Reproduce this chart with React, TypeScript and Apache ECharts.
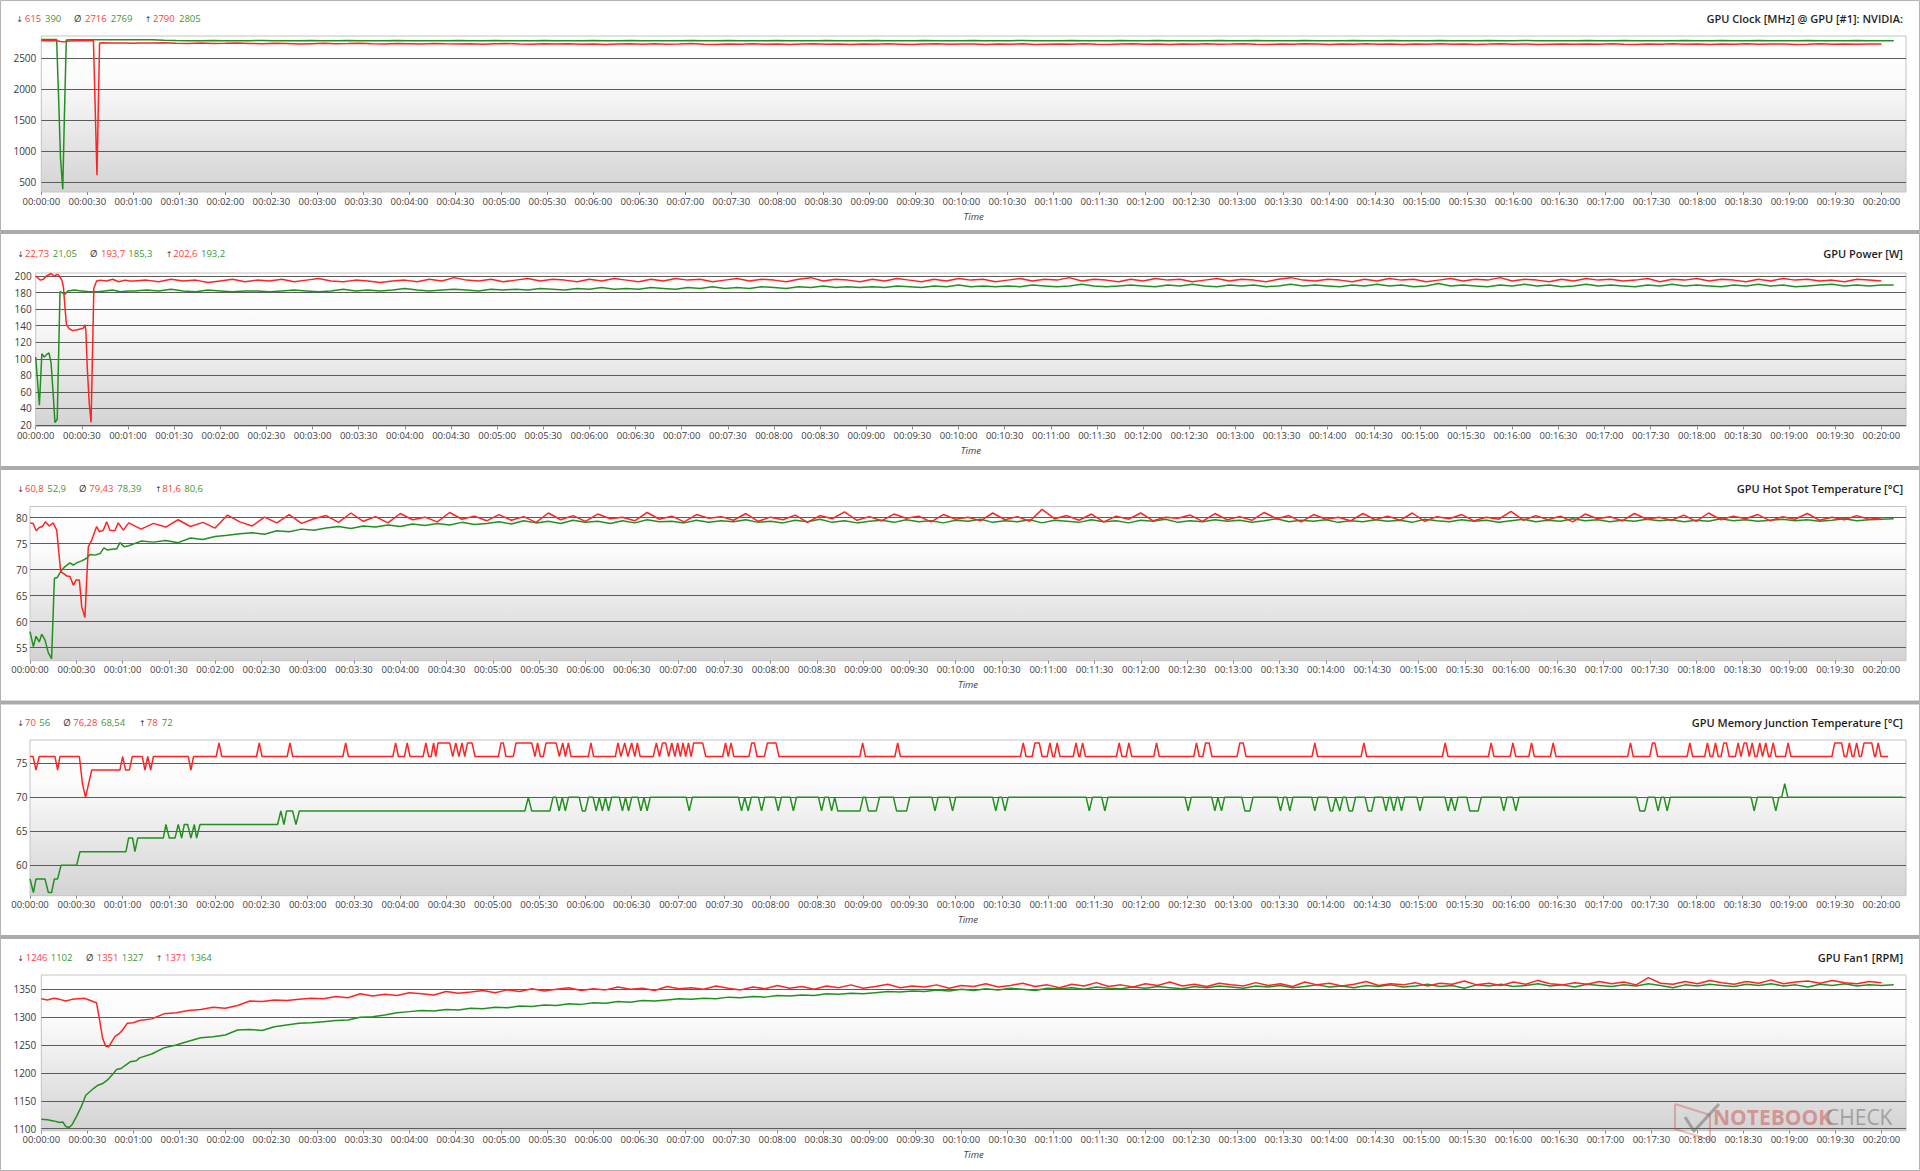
import React, { useEffect, useRef } from "react";
import * as echarts from "echarts";

// ---------- DATA (seconds since start) ----------
const TAIL_START = 64;
const TAIL_STEP = 8;
const tailTimes: number[] = Array.from({ length: 144 }, (_, i) => TAIL_START + i * TAIL_STEP);

// GPU Clock [MHz]
const clockRedEarlyT = [0, 8, 11, 12.5, 15, 18, 24, 30, 34, 36.3, 38, 40, 45, 50, 55, 60];
const clockRedEarlyV = [2785, 2785, 2778, 2770, 2765, 2778, 2785, 2785, 2785, 615, 2745, 2750, 2745, 2748, 2745, 2742];
const clockRedTail = [
  2748, 2745, 2750, 2744, 2740, 2746, 2738, 2742, 2748, 2740,
  2735, 2742, 2738, 2730, 2736, 2741, 2733, 2737, 2744, 2735,
  2731, 2738, 2735, 2729, 2740, 2734, 2730, 2736, 2727, 2733,
  2738, 2730, 2725, 2734, 2729, 2736, 2728, 2732, 2724, 2731,
  2735, 2727, 2733, 2726, 2730, 2737, 2728, 2723, 2731, 2727,
  2734, 2726, 2730, 2722, 2729, 2735, 2727, 2731, 2724, 2730,
  2726, 2733, 2728, 2721, 2730, 2736, 2725, 2729, 2732, 2724,
  2730, 2727, 2734, 2723, 2728, 2731, 2725, 2733, 2727, 2722,
  2729, 2735, 2726, 2730, 2724, 2731, 2728, 2734, 2725, 2729,
  2736, 2727, 2723, 2730, 2726, 2733, 2729, 2724, 2731, 2728,
  2734, 2725, 2729, 2722, 2730, 2727, 2733, 2726, 2731, 2724,
  2729, 2735, 2727, 2730, 2723, 2728, 2732, 2726, 2730, 2725,
  2733, 2728, 2724, 2731, 2727, 2734, 2726, 2729, 2723, 2730,
  2727, 2733, 2725, 2729, 2731, 2724, 2728, 2734, 2726, 2730,
  2727, 2729, 2731,
];
const clockGreenEarlyT = [0, 10, 11.5, 12.5, 14, 15, 16.3, 20, 30, 40, 50, 60];
const clockGreenEarlyV = [2805, 2805, 1700, 900, 390, 1500, 2795, 2800, 2800, 2800, 2800, 2800];
const clockGreenTail = [
  2800, 2798, 2790, 2786, 2785, 2784, 2786, 2785, 2783, 2785,
  2786, 2784, 2785, 2783, 2786, 2785, 2784, 2786, 2785, 2784,
  2785, 2786, 2784, 2785, 2783, 2785, 2786, 2784, 2785, 2786,
  2784, 2785, 2783, 2786, 2785, 2784, 2785, 2786, 2784, 2785,
  2786, 2785, 2784, 2783, 2785, 2786, 2784, 2785, 2786, 2784,
  2785, 2784, 2786, 2785, 2783, 2785, 2786, 2784, 2785, 2784,
  2786, 2785, 2784, 2785, 2786, 2784, 2783, 2785, 2786, 2785,
  2784, 2785, 2786, 2784, 2785, 2783, 2786, 2785, 2784, 2785,
  2786, 2784, 2785, 2786, 2784, 2785, 2783, 2785, 2786, 2784,
  2785, 2786, 2784, 2785, 2784, 2786, 2785, 2783, 2785, 2786,
  2784, 2785, 2786, 2784, 2785, 2783, 2786, 2785, 2784, 2785,
  2786, 2784, 2785, 2786, 2785, 2784, 2783, 2785, 2786, 2784,
  2785, 2786, 2784, 2785, 2783, 2785, 2786, 2784, 2785, 2786,
  2784, 2785, 2786, 2784, 2785, 2784, 2786, 2785, 2784, 2785,
  2786, 2784, 2785, 2785,
];

// GPU Power [W]
const powerRedEarlyT = [0, 3, 5, 7, 10, 12, 14, 15, 17, 18, 19, 20, 22, 24, 27, 29, 31, 32, 32.6, 33.5, 34.8, 36, 37.8, 39.6, 42, 46, 50, 54, 58, 61];
const powerRedEarlyV = [200, 195, 196, 200, 203, 200, 202, 201, 195, 187, 163, 141, 136, 134, 135, 136, 137, 141, 135, 90, 46, 23, 185, 194, 195, 194, 196, 193, 195, 194];
const powerRedTail = [
  194, 195, 193, 196, 194, 195, 192, 194, 196, 193,
  195, 194, 196, 193, 195, 197, 194, 193, 195, 194,
  192, 194, 195, 193, 196, 194, 198, 195, 194, 196,
  193, 195, 197, 194, 196, 195, 193, 196, 194, 197,
  195, 193, 196, 194, 197, 195, 196, 193, 195, 197,
  194, 196, 195, 193, 196, 198, 194, 196, 195, 193,
  196, 194, 197, 195, 193, 196, 194, 197, 195, 196,
  193, 195, 197, 194, 196, 195, 198, 194, 196, 195,
  193, 196, 194, 197, 195, 196, 193, 195, 197, 194,
  196, 195, 193, 196, 198, 195, 194, 196, 195, 193,
  196, 194, 197, 195, 196, 193, 195, 197, 194, 196,
  195, 198, 194, 196, 195, 193, 196, 194, 197, 195,
  196, 194, 195, 197, 193, 196, 195, 197, 194, 196,
  195, 193, 196, 194, 197, 195, 196, 194, 195, 193,
  196, 195, 194,
];
const powerGreenEarlyT = [0, 2.4, 4, 5.6, 7, 8.6, 10, 11.5, 12.5, 14, 15.8, 17, 19, 21, 25, 30, 35, 40, 45, 50, 55, 60];
const powerGreenEarlyV = [102, 44, 106, 102, 105, 107, 95, 54, 23, 27, 181, 180, 178, 182, 183, 182, 181, 181, 182, 183, 181, 182];
const powerGreenTail = [
  182, 183, 182, 184, 182, 181, 183, 182, 181, 182,
  182, 181, 182, 183, 182, 181, 182, 184, 182, 183,
  182, 183, 185, 183, 182, 183, 184, 183, 182, 184,
  183, 184, 183, 185, 184, 183, 185, 184, 186, 184,
  185, 184, 186, 185, 184, 186, 185, 187, 185, 186,
  185, 187, 186, 185, 187, 186, 188, 186, 187, 186,
  187, 186, 188, 187, 186, 188, 187, 189, 187, 188,
  187, 188, 187, 189, 188, 187, 188, 190, 188, 187,
  188, 189, 188, 187, 189, 188, 190, 188, 187, 189,
  188, 189, 187, 188, 190, 188, 189, 188, 187, 189,
  188, 190, 188, 189, 187, 188, 191, 188, 189, 188,
  187, 189, 188, 190, 188, 189, 187, 188, 190, 188,
  189, 188, 187, 189, 188, 190, 188, 189, 188, 187,
  189, 188, 190, 188, 189, 187, 188, 189, 190, 188,
  189, 188, 189, 189,
];

// GPU Hot Spot Temperature [°C]
const hotRedEarlyT = [0, 2, 4, 6, 8, 10, 12.5, 15, 17.3, 19.9, 21.6, 23.8, 25.9, 28.1, 29.8, 32, 33.5, 35.6, 37.8, 40, 43.2, 45, 47.5, 49.7, 51.8, 55, 57.2, 60.5];
const hotRedEarlyV = [79.0, 78.9, 77.5, 78.1, 78.3, 79.2, 78.4, 79.0, 77.6, 69.6, 69.3, 68.8, 68.7, 67.0, 68.0, 68.0, 62.9, 60.8, 74.4, 75.7, 78.3, 77.3, 77.6, 79.2, 77.6, 77.5, 79.0, 77.6];
const hotRedTail = [
  79.0, 77.8, 78.9, 78.2, 79.6, 78.3, 79.1, 78.0, 80.5, 79.2,
  78.4, 80.1, 79.0, 80.6, 78.9, 79.8, 80.4, 79.1, 80.9, 79.3,
  80.2, 79.0, 80.8, 79.6, 80.1, 79.2, 81.0, 79.7, 80.3, 79.4,
  80.6, 79.5, 80.2, 79.1, 80.9, 79.6, 80.4, 79.3, 80.7, 79.8,
  80.1, 79.4, 81.0, 79.7, 80.3, 79.2, 80.6, 79.9, 80.2, 79.5,
  80.8, 79.3, 80.1, 79.6, 80.5, 79.1, 80.4, 79.8, 81.1, 79.5,
  80.2, 79.4, 80.7, 79.9, 80.3, 79.2, 80.6, 79.7, 80.1, 79.4,
  80.9, 79.6, 80.2, 79.3, 81.6, 79.8, 80.4, 79.5, 80.7, 79.2,
  80.3, 79.7, 80.9, 79.4, 80.1, 79.9, 80.5, 79.3, 80.8, 79.6,
  80.2, 79.5, 81.0, 79.8, 80.4, 79.2, 80.6, 79.7, 80.1, 79.4,
  80.8, 79.6, 80.3, 79.5, 80.9, 79.3, 80.2, 79.8, 80.6, 79.4,
  80.1, 79.7, 81.2, 79.5, 80.4, 79.6, 80.3, 79.2, 80.7, 79.8,
  80.2, 79.4, 80.8, 79.7, 80.1, 79.5, 80.5, 79.3, 80.9, 79.6,
  80.3, 79.8, 80.6, 79.4, 80.2, 79.7, 80.8, 79.5, 80.1, 79.6,
  80.4, 79.7, 80.0,
];
const hotGreenEarlyT = [0, 2.2, 3.9, 6, 7.6, 9.7, 11.9, 14, 15.8, 17.7, 20.5, 22.7, 25.9, 28.1, 30.2, 33.5, 36.7, 38.9, 42.1, 45.4, 47.9, 50, 54, 56.2, 58.3, 61];
const hotGreenEarlyV = [58.1, 55.2, 57.2, 56.1, 57.6, 56.5, 54.0, 52.9, 68.3, 68.5, 69.9, 70.6, 71.3, 70.9, 71.3, 71.7, 72.2, 72.9, 72.8, 73.1, 74.2, 73.8, 74.0, 74.0, 75.2, 74.4];
const hotGreenTail = [
  74.6, 75.5, 75.3, 75.6, 75.2, 76.1, 75.8, 76.4, 76.6, 76.9,
  77.1, 76.8, 77.5, 77.3, 77.8, 77.6, 78.0, 78.3, 77.9, 78.4,
  78.2, 78.6, 78.3, 78.8, 78.5, 78.9, 78.6, 79.1, 78.7, 78.9,
  79.2, 78.8, 79.4, 79.0, 79.3, 78.9, 79.5, 79.1, 79.3, 78.9,
  79.4, 79.0, 79.6, 79.2, 79.3, 79.0, 79.5, 79.1, 79.4, 79.2,
  79.6, 79.1, 79.3, 79.0, 79.5, 79.2, 79.7, 79.1, 79.4, 79.0,
  79.3, 79.5, 79.1, 79.6, 79.2, 79.4, 79.0, 79.5, 79.3, 79.7,
  79.1, 79.4, 79.2, 79.6, 79.0, 79.5, 79.3, 79.1, 79.6, 79.2,
  79.4, 79.0, 79.5, 79.3, 79.7, 79.1, 79.4, 79.2, 79.6, 79.3,
  79.5, 79.1, 79.4, 79.8, 79.2, 79.5, 79.3, 79.6, 79.1, 79.4,
  79.2, 79.6, 79.3, 79.5, 79.1, 79.7, 79.4, 79.2, 79.6, 79.3,
  79.5, 79.1, 79.4, 79.7, 79.2, 79.5, 79.3, 79.8, 79.4, 79.6,
  79.2, 79.5, 79.3, 79.7, 79.4, 79.6, 79.2, 79.5, 79.3, 79.8,
  79.4, 79.6, 79.3, 79.5, 79.7, 79.4, 79.6, 79.3, 79.5, 79.8,
  79.4, 79.6, 79.7, 79.8,
];

// GPU Memory Junction Temperature [°C]  ([seconds, °C] change points)
const memRed: number[][] = [
  [0, 76], [2, 76], [3.9, 74], [6, 76], [16.2, 76], [17.9, 74], [19.4, 76], [32, 76], [34, 72], [36, 70], [40, 74], [58.3, 74], [60, 76], [62, 74], [64.4, 74], [66.3, 76], [72.8, 76], [74.5, 74], [76.3, 76], [78.2, 74], [80, 76], [102.6, 76], [104.3, 74], [106, 76],
  [120.7, 76], [122.5, 78], [124.3, 76], [146.8, 76], [148.6, 78], [150.4, 76], [166.7, 76], [168.5, 78], [170.3, 76], [202.8, 76], [204.6, 78], [206.4, 76],
  [235.2, 76], [237, 78], [238.8, 76], [242.7, 76], [244.5, 78], [246.3, 76], [254.8, 76], [256.6, 78], [258.4, 76],
  [260, 76], [261.6, 78], [263, 76], [264.5, 78], [272, 78], [274, 76], [276, 78], [278, 76], [280, 78], [281.8, 76], [283.6, 78], [286.5, 78], [288.5, 76],
  [303.6, 76], [305.3, 78], [306.8, 78], [308.5, 76], [313.3, 76], [315, 78], [325.2, 78], [327.3, 76], [329, 78], [330.8, 76], [332.7, 76], [334.5, 78], [341, 78], [343.1, 76], [345.3, 78], [347, 76], [349, 78], [350.7, 76],
  [361.9, 76], [363.6, 78], [365.3, 76], [379.4, 76], [381.1, 78], [383, 76], [385.5, 78], [387.5, 76], [390, 78], [392, 76], [393.7, 78], [395.5, 76],
  [404, 76], [406, 78], [408, 76], [410, 78], [412, 78], [414, 76], [416, 78], [418, 76], [419.8, 78], [421.6, 76], [423.3, 78], [425, 76], [426.8, 78], [428.5, 76], [430.2, 78], [436, 78], [438, 76],
  [449, 76], [450.8, 78], [452.6, 76], [454.4, 78], [456.2, 76], [466, 76], [467.8, 78], [469.5, 78], [471.3, 76], [476, 76], [478, 78], [483.5, 78], [485.5, 76],
  [537.9, 76], [539.7, 78], [541.5, 76], [560.6, 76], [562.4, 78], [564.2, 76],
  [642, 76], [643.8, 78], [645.6, 76], [649.6, 76], [651.4, 78], [654.2, 78], [656, 76], [659.3, 76], [661.1, 78], [662.9, 76], [664, 76], [665.8, 78], [667.6, 76],
  [676.2, 76], [678, 78], [679.8, 76], [680.5, 76], [682.3, 78], [684.1, 76], [704.2, 76], [706, 78], [707.8, 76], [710.5, 76], [712.3, 78], [714.1, 76], [728.4, 76], [730.2, 78], [732, 76],
  [754.3, 76], [756.1, 78], [757.9, 76], [760.2, 76], [762, 78], [764.3, 78], [766.1, 76], [782.4, 76], [784.2, 78], [786.4, 78], [788.2, 76], [831, 76], [832.8, 78], [834.6, 76], [862.8, 76], [864.6, 78], [866.4, 76],
  [915.5, 76], [917.3, 78], [919.1, 76], [945.3, 76], [947.1, 78], [948.9, 76], [959.4, 76], [961.2, 78], [963, 76], [971.5, 76], [973.3, 78], [975.1, 76], [985.5, 76], [987.3, 78], [989.1, 76],
  [1035.6, 76], [1037.4, 78], [1039.2, 76], [1049.9, 76], [1051.7, 78], [1053.2, 78], [1055, 76], [1074.1, 76], [1075.9, 78], [1077.7, 76],
  [1085.5, 76], [1087.3, 78], [1089.1, 76], [1090.7, 76], [1092.5, 78], [1094.3, 76], [1096.1, 76], [1097.9, 78], [1099.6, 78], [1101.4, 76], [1105.4, 76], [1107.2, 78], [1109, 76],
  [1109.3, 76], [1111.1, 78], [1112.6, 78], [1114.4, 76], [1116.3, 78], [1118.1, 76], [1119.4, 76], [1121.2, 78], [1123, 76], [1123.3, 76], [1125.1, 78], [1126.9, 76], [1128.1, 76], [1129.9, 78], [1131.7, 76],
  [1137.8, 76], [1139.6, 78], [1141.4, 76], [1168, 76], [1169.8, 78], [1174.2, 78], [1176, 76], [1177.5, 76], [1179.3, 78], [1181.1, 76], [1182.2, 76], [1184, 78], [1185.8, 76],
  [1187, 76], [1188.8, 78], [1193.8, 78], [1195.6, 76], [1196.2, 76], [1198, 78], [1199.8, 76], [1204.4, 76],
];
const memGreen: number[][] = [
  [0, 58], [2.2, 56], [3.9, 58], [9.7, 58], [11.9, 56], [14, 56], [15.8, 58], [17.9, 58], [20.1, 60], [30.2, 60], [32.4, 62], [62.2, 62], [63.9, 64], [66.5, 64], [68, 62], [69.8, 64],
  [86.4, 64], [88.1, 66], [90.3, 64], [94, 64], [96.1, 66], [98.3, 64], [100, 66], [102.2, 66], [104.3, 64], [106.5, 66], [108, 64], [110.2, 66],
  [160.5, 66], [162.6, 68], [164.6, 66], [166.3, 68], [170.2, 68], [172.4, 66], [174.6, 68],
  [320.8, 68], [323, 70], [325.2, 68], [337, 68], [339, 70], [341, 70], [343, 68], [345, 70], [347, 68], [349, 70], [356, 70], [358, 68], [360, 68], [362, 70], [365, 70], [367, 68], [369, 70], [371, 68], [373, 70], [375, 68], [377, 70],
  [382, 70], [384, 68], [386, 70], [388, 68], [390, 70], [394, 70], [396, 68], [398, 70], [400, 68], [402, 70],
  [425.3, 70], [427.3, 68], [429.3, 70], [459.2, 70], [461.2, 68], [463.3, 70], [465.5, 68], [467.5, 70], [472.2, 70], [474.2, 68], [476.2, 70], [483, 70], [485, 68], [487, 70], [492.8, 70], [494.8, 68], [496.8, 70],
  [511.1, 70], [513.1, 68], [515.1, 70], [517.6, 70], [519.6, 68], [521.6, 70], [523.6, 68], [538, 68], [540, 70], [541.5, 70], [543.5, 68], [548.5, 68], [550.6, 70], [559.7, 70], [561.7, 68], [568.2, 68], [570.2, 70], [584.6, 70], [586.6, 68], [588.6, 70],
  [596, 70], [598, 68], [600, 70], [624, 70], [626, 68], [628, 70], [630, 70], [632, 68], [634, 70], [684.6, 70], [686.6, 68], [688.6, 70], [694.7, 70], [696.7, 68], [698.7, 70],
  [748.7, 70], [750.7, 68], [752.7, 70], [766, 70], [768, 68], [770, 70], [772.3, 68], [774.3, 70], [785.5, 70], [787.5, 68], [790.7, 68], [792.7, 70],
  [808.6, 70], [810.6, 68], [812.6, 70], [814.6, 70], [816.6, 68], [818.6, 70], [830.8, 70], [832.8, 68], [834.8, 70], [841, 70], [843, 68], [844.3, 68], [846.3, 70], [849, 68], [851, 70],
  [853, 70], [855, 68], [857.2, 68], [859.2, 70], [865.4, 70], [867.4, 68], [869.6, 68], [871.6, 70], [876.9, 70], [878.9, 68], [880.9, 70], [882, 70], [884, 68], [886, 70], [887, 70], [889, 68], [891, 70], [899, 70], [901, 68], [903, 70],
  [917.2, 70], [919.2, 68], [921.2, 70], [921.6, 70], [923.6, 68], [925.6, 70], [931.3, 70], [933.3, 68], [938.7, 68], [940.7, 70], [953.3, 70], [955.3, 68], [957.3, 70], [961.1, 70], [963.1, 68], [965.1, 70],
  [1041.5, 70], [1043.5, 68], [1046.7, 68], [1048.7, 70], [1053.3, 70], [1055.3, 68], [1057.3, 70], [1059.2, 70], [1061.2, 68], [1063.2, 70],
  [1115.6, 70], [1117.6, 68], [1119.6, 70], [1129.6, 70], [1131.6, 68], [1133.6, 70], [1135.4, 70], [1137.4, 72], [1139.4, 70], [1214, 70],
];

// GPU Fan1 [RPM]
const fanRedEarlyT = [0, 4, 8, 12, 16, 20, 24, 28, 32, 36, 38, 40, 42, 44, 46, 48, 51, 53, 56, 60];
const fanRedEarlyV = [1333, 1331, 1334, 1332, 1329, 1332, 1333, 1334, 1330, 1326, 1295, 1262, 1248, 1247, 1256, 1265, 1271, 1277, 1289, 1290];
const fanRedTail = [
  1294, 1297, 1306, 1308, 1312, 1314, 1318, 1316, 1321, 1329,
  1328, 1331, 1330, 1332, 1334, 1333, 1337, 1335, 1342, 1338,
  1341, 1339, 1344, 1342, 1340, 1346, 1343, 1345, 1348, 1344,
  1349, 1346, 1351, 1347, 1350, 1353, 1348, 1351, 1349, 1354,
  1350, 1352, 1348, 1355, 1351, 1353, 1350, 1356, 1352, 1349,
  1354, 1351, 1357, 1352, 1355, 1350, 1356, 1353, 1358, 1352,
  1355, 1359, 1353, 1356, 1354, 1358, 1352, 1357, 1355, 1360,
  1354, 1357, 1361, 1355, 1358, 1353, 1359, 1356, 1362, 1355,
  1358, 1354, 1360, 1357, 1363, 1356, 1359, 1355, 1361, 1358,
  1356, 1362, 1357, 1360, 1355, 1363, 1358, 1361, 1356, 1359,
  1364, 1357, 1360, 1358, 1362, 1356, 1361, 1359, 1365, 1358,
  1361, 1357, 1363, 1359, 1366, 1360, 1358, 1362, 1359, 1364,
  1360, 1363, 1358, 1371, 1361, 1359, 1364, 1360, 1366, 1362,
  1359, 1364, 1361, 1367, 1360, 1363, 1365, 1361, 1366, 1362,
  1360, 1364, 1362,
];
const fanGreenEarlyT = [0, 4, 8, 12, 14, 16, 18, 20, 23, 26, 29, 34, 37, 40, 43, 47, 49, 52, 55, 58, 62];
const fanGreenEarlyV = [1117, 1116, 1114, 1111, 1112, 1104, 1102, 1107, 1122, 1139, 1160, 1172, 1178, 1181, 1187, 1199, 1206, 1208, 1214, 1220, 1222];
const fanGreenTail = [
  1227, 1234, 1245, 1250, 1257, 1263, 1265, 1268, 1277, 1278,
  1276, 1283, 1286, 1289, 1290, 1292, 1294, 1295, 1300, 1301,
  1304, 1308, 1310, 1312, 1311, 1314, 1313, 1316, 1315, 1318,
  1317, 1320, 1319, 1322, 1321, 1324, 1323, 1326, 1325, 1328,
  1327, 1330, 1329, 1331, 1333, 1332, 1334, 1333, 1336, 1335,
  1337, 1336, 1339, 1338, 1340, 1339, 1342, 1341, 1343, 1342,
  1344, 1346, 1345, 1347, 1346, 1349, 1347, 1350, 1348, 1351,
  1349, 1352, 1350, 1348, 1352, 1351, 1353, 1350, 1354, 1352,
  1351, 1354, 1352, 1355, 1353, 1351, 1355, 1353, 1356, 1354,
  1352, 1356, 1354, 1357, 1353, 1355, 1358, 1354, 1356, 1353,
  1357, 1355, 1358, 1354, 1356, 1359, 1355, 1357, 1352, 1358,
  1356, 1359, 1355, 1357, 1360, 1356, 1358, 1354, 1359, 1357,
  1355, 1358, 1356, 1360, 1357, 1353, 1358, 1356, 1359, 1357,
  1355, 1359, 1357, 1360, 1356, 1358, 1354, 1359, 1357, 1360,
  1356, 1358, 1357, 1358,
];

// Texts
const titles = [
  "GPU Clock [MHz] @ GPU [#1]: NVIDIA:",
  "GPU Power [W]",
  "GPU Hot Spot Temperature [°C]",
  "GPU Memory Junction Temperature [°C]",
  "GPU Fan1 [RPM]",
];
const clockStats = ["615", "390", "2716", "2769", "2790", "2805"];
const powerStats = ["22,73", "21,05", "193,7", "185,3", "202,6", "193,2"];
const hotStats = ["60,8", "52,9", "79,43", "78,39", "81,6", "80,6"];
const memStats = ["70", "56", "76,28", "68,54", "78", "72"];
const fanStats = ["1246", "1102", "1351", "1327", "1371", "1364"];
const statSymbols = ["↓", "Ø", "↑"];
const watermarkParts = ["NOTEBOOK", "CHECK"];

// ---------- helpers ----------
function pairs(times: number[], values: number[]): number[][] {
  return values.map((v, i) => [times[i], v]);
}
function fmtTime(v: number): string {
  const s = Math.round(v);
  const h = Math.floor(s / 3600);
  const m = Math.floor((s % 3600) / 60);
  const ss = s % 60;
  return [h, m, ss].map((n) => String(n).padStart(2, "0")).join(":");
}

const FONT = '"Open Sans", "Noto Sans", "DejaVu Sans", sans-serif';
const RED = "#ff2424";
const GREEN = "#22901f";
const STAT_RED = "#ff3c3c";
const STAT_GREEN = "#3a9a38";

// layout per panel
const LAYOUT = [
  { left: 41.3, top: 36, height: 156, min: 343.5, max: 2859.7, split: 5, lm: 5, textY: 18.7, statX: [17.3, 25, 45, 74, 85, 110.7, 145.7, 153, 179] },
  { left: 35.7, top: 273, height: 153.5, min: 18.2, max: 203.6, split: 9, lm: 4, textY: 253.6, statX: [18.3, 25, 52.7, 90, 101, 128.3, 166.7, 173.3, 201] },
  { left: 30, top: 506.5, height: 154.2, min: 52.5, max: 82.15, split: 6, lm: 2.5, textY: 488.3, statX: [18.3, 25, 47.3, 79, 89.3, 117.3, 156, 162.3, 184.3] },
  { left: 30, top: 740, height: 155.7, min: 55.53, max: 78.43, split: 5, lm: 2.5, textY: 722.3, statX: [18.3, 25, 39.3, 63.3, 73.3, 101, 140, 146.7, 161.7] },
  { left: 41.3, top: 975, height: 155.7, min: 1096.4, max: 1375.7, split: 6, lm: 5, textY: 957.3, statX: [18.3, 25.7, 50.7, 86, 96.7, 121.7, 156.7, 165, 190] },
];
const PLOT_RIGHT = 1906;
const X_MAX = 1216;

export default function App() {
  const ref = useRef<HTMLDivElement>(null);

  useEffect(() => {
    document.body.style.margin = "0";
    document.body.style.background = "#ffffff";
    if (!ref.current) return;
    const chart = echarts.init(ref.current, null, { renderer: "svg" });

    const seriesData = [
      [pairs(clockRedEarlyT, clockRedEarlyV).concat(pairs(tailTimes, clockRedTail)), pairs(clockGreenEarlyT, clockGreenEarlyV).concat(pairs(tailTimes, clockGreenTail))],
      [pairs(powerRedEarlyT, powerRedEarlyV).concat(pairs(tailTimes, powerRedTail)), pairs(powerGreenEarlyT, powerGreenEarlyV).concat(pairs(tailTimes, powerGreenTail))],
      [pairs(hotRedEarlyT, hotRedEarlyV).concat(pairs(tailTimes, hotRedTail)), pairs(hotGreenEarlyT, hotGreenEarlyV).concat(pairs(tailTimes, hotGreenTail))],
      [memRed, memGreen],
      [pairs(fanRedEarlyT, fanRedEarlyV).concat(pairs(tailTimes, fanRedTail)), pairs(fanGreenEarlyT, fanGreenEarlyV).concat(pairs(tailTimes, fanGreenTail))],
    ];
    const stats = [clockStats, powerStats, hotStats, memStats, fanStats];

    const bg = {
      type: "linear", x: 0, y: 0, x2: 0, y2: 1,
      colorStops: [
        { offset: 0, color: "#ffffff" },
        { offset: 0.28, color: "#fbfbfb" },
        { offset: 1, color: "#d3d3d3" },
      ],
    };

    const grids = LAYOUT.map((p) => ({
      left: p.left, top: p.top, width: PLOT_RIGHT - p.left, height: p.height,
      show: true, backgroundColor: bg, borderColor: "#c4c4c4", borderWidth: 1,
      containLabel: false,
    }));

    const xAxes = LAYOUT.map((p, k) => ({
      gridIndex: k, type: "value", min: 0, max: X_MAX, interval: 30,
      name: "Time", nameLocation: "middle", nameGap: 19,
      nameTextStyle: { fontStyle: "italic", fontSize: 9.5, color: "#404040", fontFamily: FONT },
      axisLine: { show: false },
      axisTick: { show: true, length: 3, lineStyle: { color: "#8a8a8a" } },
      axisLabel: { fontSize: 9.5, color: "#404040", fontFamily: FONT, margin: 4, showMaxLabel: false, formatter: (v: number) => fmtTime(v) },
      splitLine: { show: false },
    }));

    const yAxes = LAYOUT.map((p, k) => ({
      gridIndex: k, type: "value", min: p.min, max: p.max, splitNumber: p.split,
      axisLine: { show: false }, axisTick: { show: false },
      axisLabel: {
        fontSize: 10, color: "#3a3a3a", fontFamily: FONT, margin: p.lm, showMinLabel: false, showMaxLabel: false,
        formatter: (v: number) => String(Math.round(v * 100) / 100),
      },
      splitLine: { show: true, showMinLine: false, showMaxLine: false, lineStyle: { color: "#5c5c5c", width: 1 } },
    }));

    const series: any[] = [];
    seriesData.forEach((pair, k) => {
      series.push({ type: "line", xAxisIndex: k, yAxisIndex: k, data: pair[0], showSymbol: false, symbol: "none", lineStyle: { color: RED, width: 1.5 }, itemStyle: { color: RED }, z: 3 });
      series.push({ type: "line", xAxisIndex: k, yAxisIndex: k, data: pair[1], showSymbol: false, symbol: "none", lineStyle: { color: GREEN, width: 1.5 }, itemStyle: { color: GREEN }, z: 2 });
    });

    const txt = (x: number, y: number, text: string, fill: string, extra: any = {}) => ({
      type: "text", x, y, silent: true, z: 10,
      style: { text, fill, fontSize: 9.5, fontFamily: FONT, align: "left", textAlign: "left", verticalAlign: "middle", textVerticalAlign: "middle", ...extra },
    });

    const graphics: any[] = [];
    // panel separators & frame
    [230, 466, 700.5, 935].forEach((y) => {
      graphics.push({ type: "rect", shape: { x: 0, y, width: 1920, height: 4 }, style: { fill: "#ababab" }, silent: true, z: 1 });
    });
    graphics.push({ type: "rect", shape: { x: 0.5, y: 0.5, width: 1919, height: 1170 }, style: { fill: "none", stroke: "#b4b4b4", lineWidth: 1 }, silent: true, z: 1 });

    LAYOUT.forEach((p, k) => {
      const s = stats[k];
      const xs = p.statX;
      const y = p.textY;
      const sym = { fontSize: 8 };
      graphics.push(txt(xs[0] - 1, y, statSymbols[0], "#3c3c3c", sym));
      graphics.push(txt(xs[1], y, s[0], STAT_RED));
      graphics.push(txt(xs[2], y, s[1], STAT_GREEN));
      graphics.push(txt(xs[3], y, statSymbols[1], "#3c3c3c"));
      graphics.push(txt(xs[4], y, s[2], STAT_RED));
      graphics.push(txt(xs[5], y, s[3], STAT_GREEN));
      graphics.push(txt(xs[6] - 1, y, statSymbols[2], "#3c3c3c", sym));
      graphics.push(txt(xs[7], y, s[4], STAT_RED));
      graphics.push(txt(xs[8], y, s[5], STAT_GREEN));
      graphics.push(txt(1903, y, titles[k], "#1e1e1e", { fontSize: 11, fontWeight: 600, align: "right", textAlign: "right" }));
    });

    // watermark (kept just above the time labels so it does not collide with them)
    graphics.push({ type: "polyline", shape: { points: [[1675, 1104], [1710, 1115], [1710, 1140], [1675, 1129], [1675, 1104]] }, style: { stroke: "rgba(200,70,70,0.35)", lineWidth: 2, fill: "none" }, silent: true, z: 11 });
    graphics.push({ type: "polyline", shape: { points: [[1685, 1117], [1694, 1131], [1719, 1104]] }, style: { stroke: "rgba(90,90,90,0.45)", lineWidth: 3, fill: "none" }, silent: true, z: 11 });
    graphics.push(txt(1713, 1117, watermarkParts[0], "rgba(205,80,80,0.5)", { fontSize: 21, fontWeight: 700, fontFamily: '"Open Sans", sans-serif' }));
    graphics.push(txt(1826, 1117, watermarkParts[1], "rgba(110,110,110,0.55)", { fontSize: 21, fontWeight: 400, fontFamily: '"Open Sans", sans-serif' }));

    chart.setOption({
      animation: false,
      backgroundColor: "#ffffff",
      grid: grids,
      xAxis: xAxes,
      yAxis: yAxes,
      series,
      graphic: { elements: graphics },
    });

    return () => chart.dispose();
  }, []);

  return <div ref={ref} style={{ width: 1920, height: 1171 }} />;
}
